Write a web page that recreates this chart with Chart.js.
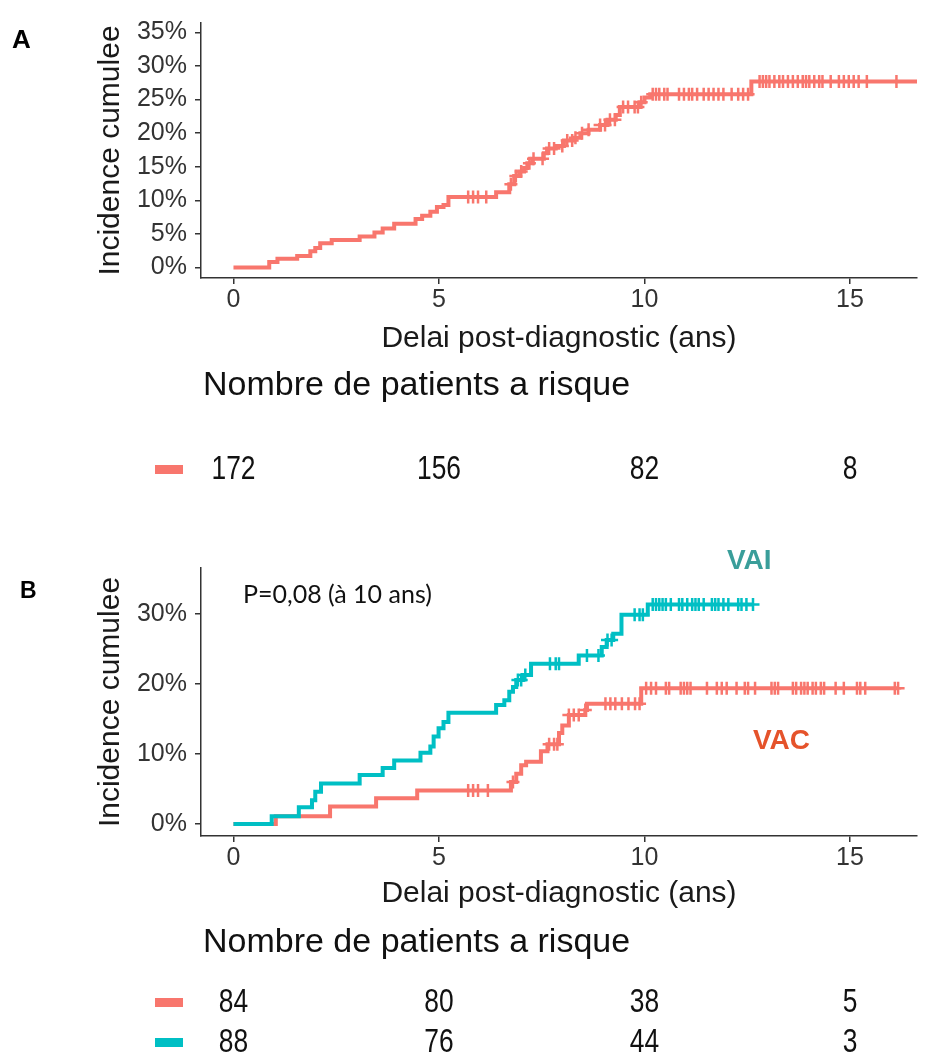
<!DOCTYPE html>
<html>
<head>
<meta charset="utf-8">
<script src="https://cdn.jsdelivr.net/npm/chart.js@4.4.0/dist/chart.umd.min.js"></script>
<style>
  html, body { margin: 0; padding: 0; background: #fff; }
  canvas { position: absolute; left: 0; }
  #chartA { top: 0; }
  #chartB { top: 530px; }
</style>
</head>
<body>
<canvas id="chartA" width="926" height="530"></canvas>
<canvas id="chartB" width="926" height="531"></canvas>
<script>
"use strict";

// Panel A : ensemble des patients (temps en ans, incidence en %)
var timesA = [0, 0.87, 1.07, 1.55, 1.87, 1.99, 2.11, 2.39, 3.07, 3.43, 3.63, 3.91, 4.43, 4.59, 4.79, 4.95, 5.11, 5.23, 6.39, 6.71, 6.83, 6.95, 7.07, 7.15, 7.27, 7.55, 7.63, 7.84, 8.04, 8.28, 8.44, 8.64, 8.92, 9.1, 9.3, 9.4, 9.9, 10.0, 10.14, 12.6, 16.7];
var incA = [0, 0.8, 1.3, 1.7, 2.4, 2.9, 3.6, 4.1, 4.6, 5.2, 5.8, 6.5, 7.2, 7.7, 8.3, 9.0, 9.3, 10.5, 11.2, 12.4, 13.6, 14.3, 14.8, 15.5, 16.2, 17.0, 17.7, 18.1, 18.9, 19.3, 20.0, 20.5, 21.2, 22.0, 22.7, 23.9, 24.6, 25.3, 25.8, 27.7, 27.7];
var censorA = [5.71, 5.83, 5.95, 6.15, 6.75, 6.87, 7.0, 7.2, 7.3, 7.52, 7.68, 7.8, 8.0, 8.12, 8.24, 8.32, 8.48, 8.64, 8.92, 9.04, 9.16, 9.28, 9.48, 9.6, 9.76, 9.84, 9.92, 10.2, 10.28, 10.36, 10.48, 10.56, 10.84, 10.96, 11.08, 11.16, 11.28, 11.44, 11.56, 11.68, 11.8, 11.92, 12.12, 12.28, 12.4, 12.52, 12.8, 12.88, 12.96, 13.04, 13.16, 13.28, 13.37, 13.49, 13.61, 13.73, 13.85, 13.93, 14.01, 14.13, 14.25, 14.33, 14.53, 14.73, 14.85, 14.97, 15.09, 15.21, 15.41, 16.13];

// Panel B : VAI (bleu) et VAC (rouge)
var timesVAI = [0, 0.93, 1.59, 1.91, 1.99, 2.13, 3.07, 3.63, 3.91, 4.55, 4.79, 4.87, 4.99, 5.11, 5.23, 6.39, 6.59, 6.71, 6.8, 6.88, 7.04, 7.24, 8.4, 8.96, 9.08, 9.24, 9.44, 10.08, 12.64];
var incVAI = [0, 1.1, 2.4, 3.4, 4.6, 5.8, 7.0, 8.0, 9.1, 10.2, 11.1, 12.5, 13.7, 14.6, 15.9, 17.0, 17.7, 18.9, 19.6, 20.6, 21.3, 22.9, 24.1, 25.3, 26.3, 27.2, 29.9, 31.4, 31.4];
var censorVAI = [6.92, 7.0, 7.1, 7.7, 7.84, 7.92, 8.6, 8.88, 9.1, 9.2, 9.76, 9.88, 9.96, 10.2, 10.28, 10.36, 10.44, 10.52, 10.64, 10.84, 10.92, 11.04, 11.16, 11.24, 11.32, 11.44, 11.64, 11.72, 11.8, 11.92, 12.04, 12.28, 12.36, 12.48, 12.64];

var timesVAC = [0, 1.03, 2.35, 3.47, 4.47, 6.75, 6.88, 7.0, 7.12, 7.48, 7.64, 7.92, 8.0, 8.16, 8.56, 8.6, 9.92, 16.17];
var incVAC = [0, 1.1, 2.5, 3.7, 4.8, 6.0, 7.2, 8.4, 8.9, 10.4, 11.4, 13.0, 14.1, 15.6, 16.3, 17.2, 19.4, 19.4];
var censorVAC = [5.71, 5.83, 5.95, 6.19, 6.8, 7.68, 7.8, 7.88, 8.16, 8.28, 8.4, 8.56, 9.05, 9.17, 9.29, 9.45, 9.61, 9.77, 9.88, 10.04, 10.16, 10.28, 10.52, 10.6, 10.88, 10.96, 11.04, 11.12, 11.52, 11.76, 11.88, 12.0, 12.24, 12.44, 12.52, 12.69, 13.09, 13.17, 13.25, 13.61, 13.69, 13.81, 13.89, 13.97, 14.09, 14.17, 14.29, 14.37, 14.65, 14.85, 15.17, 15.25, 15.37, 16.09, 16.17];

// Nombre de patients a risque
var riskTimes = [0, 5, 10, 15];
var riskA = [172, 156, 82, 8];
var riskVAC = [84, 80, 38, 5];
var riskVAI = [88, 76, 44, 3];

var yTicksA = 5;
var yTicksB = 10;
var xTicks = 5;

var RED = '#F8766D';
var TEAL = '#00BFC4';
var FONT = '"Liberation Sans", Arial, sans-serif';

// niveau de la courbe en escalier a l'instant t
function levelAt(times, inc, t) {
	var v = 0;
	for (var i = 0; i < times.length; i++) {
		if (times[i] <= t + 1e-9) v = inc[i];
	}
	return v;
}

function curveData(times, inc) {
	return times.map(function(t, i) { return {x: t, y: inc[i]}; });
}

function censorData(censor, times, inc) {
	return censor.map(function(t) { return {x: t, y: levelAt(times, inc, t)}; });
}

function curveSet(times, inc, color) {
	return {
		data: curveData(times, inc),
		borderColor: color,
		borderWidth: 4,
		stepped: 'before',
		pointRadius: 0,
		fill: false,
		tension: 0
	};
}

function censorSet(censor, times, inc, color) {
	return {
		data: censorData(censor, times, inc),
		showLine: false,
		pointStyle: 'cross',
		pointRadius: 6.5,
		pointBorderWidth: 2.5,
		pointBorderColor: color,
		pointBackgroundColor: color
	};
}

var panelPlugin = {
	id: 'panelText',
	afterDraw: function(chart, args, opts) {
		var ctx = chart.ctx;
		var xs = chart.scales.x;
		ctx.save();
		ctx.textBaseline = 'middle';

		// lettre du panneau
		ctx.fillStyle = '#000';
		ctx.textAlign = 'left';
		ctx.font = 'bold ' + opts.letter.size + 'px ' + FONT;
		ctx.fillText(opts.letter.text, opts.letter.x, opts.letter.y);

		(opts.notes || []).forEach(function(n) {
			ctx.fillStyle = n.color;
			ctx.font = n.font;
			ctx.fillText(n.text, n.x, n.y);
		});

		// tableau des patients a risque
		ctx.fillStyle = '#111';
		ctx.font = '34px ' + FONT;
		ctx.fillText('Nombre de patients a risque', 203, opts.riskTitleY);

		opts.rows.forEach(function(row) {
			ctx.fillStyle = row.color;
			ctx.fillRect(155, row.y - 5, 28, 9);
			ctx.fillStyle = '#111';
			ctx.font = '33px ' + FONT;
			ctx.textAlign = 'center';
			row.values.forEach(function(v, i) {
				var px = xs.getPixelForValue(riskTimes[i]);
				ctx.save();
				ctx.translate(px, row.y);
				ctx.scale(0.8, 1);
				ctx.fillText(String(v), 0, 0);
				ctx.restore();
			});
			ctx.textAlign = 'left';
		});
		ctx.restore();
	}
};

function makeChart(canvasId, datasets, yMin, yMax, yStep, padTop, padBottom, textOpts, xTitlePad) {
	var ctx = document.getElementById(canvasId).getContext('2d');
	return new Chart(ctx, {
		type: 'line',
		data: {datasets: datasets},
		plugins: [panelPlugin],
		options: {
			responsive: false,
			animation: false,
			events: [],
			layout: {padding: {top: padTop, bottom: padBottom, left: 0, right: 0}},
			plugins: {
				legend: {display: false},
				tooltip: {enabled: false},
				panelText: textOpts
			},
			scales: {
				x: {
					type: 'linear',
					min: -0.79,
					max: 16.63,
					afterFit: function(s) { s.height = 82; },
					border: {color: '#333', width: 1.5},
					grid: {drawOnChartArea: false, drawTicks: true, tickLength: 6, color: '#333', lineWidth: 1.5},
					ticks: {stepSize: xTicks, includeBounds: false, padding: 1, color: '#333', font: {family: FONT, size: 25}},
					title: {display: true, text: 'Delai post-diagnostic (ans)', color: '#1a1a1a', font: {family: FONT, size: 30}, padding: {top: 0, bottom: xTitlePad}}
				},
				y: {
					type: 'linear',
					min: yMin,
					max: yMax,
					afterFit: function(s) { s.width = 201; },
					border: {color: '#333', width: 1.5},
					grid: {drawOnChartArea: false, drawTicks: true, tickLength: 6, color: '#333', lineWidth: 1.5},
					ticks: {stepSize: yStep, includeBounds: false, padding: 8, color: '#333', font: {family: FONT, size: 25},
						callback: function(v) { return v + '%'; }},
					title: {display: true, text: 'Incidence cumulee', color: '#1a1a1a', font: {family: FONT, size: 30}, padding: {top: 93, bottom: 0}}
				}
			}
		}
	});
}

makeChart('chartA', [
	curveSet(timesA, incA, RED),
	censorSet(censorA, timesA, incA, RED)
], -1.57, 36.4, yTicksA, 12, 170, {
	letter: {text: 'A', x: 12, y: 41, size: 26},
	notes: [],
	riskTitleY: 386,
	rows: [{color: RED, values: riskA, y: 470}]
}, 3);

makeChart('chartB', [
	curveSet(timesVAI, incVAI, TEAL),
	censorSet(censorVAI, timesVAI, incVAI, TEAL),
	curveSet(timesVAC, incVAC, RED),
	censorSet(censorVAC, timesVAC, incVAC, RED)
], -1.71, 36.6, yTicksB, 38, 143, {
	letter: {text: 'B', x: 20, y: 62, size: 23},
	notes: [
		{text: 'P=0,08 (à 10 ans)', x: 243, y: 65, color: '#111', font: '25px Lato, ' + FONT},
		{text: 'VAI', x: 727, y: 31, color: '#3A9E9A', font: 'bold 28px ' + FONT},
		{text: 'VAC', x: 753, y: 211, color: '#E5532B', font: 'bold 28px ' + FONT}
	],
	riskTitleY: 413,
	rows: [
		{color: RED, values: riskVAC, y: 473},
		{color: TEAL, values: riskVAI, y: 513}
	]
}, 6);
</script>
</body>
</html>
